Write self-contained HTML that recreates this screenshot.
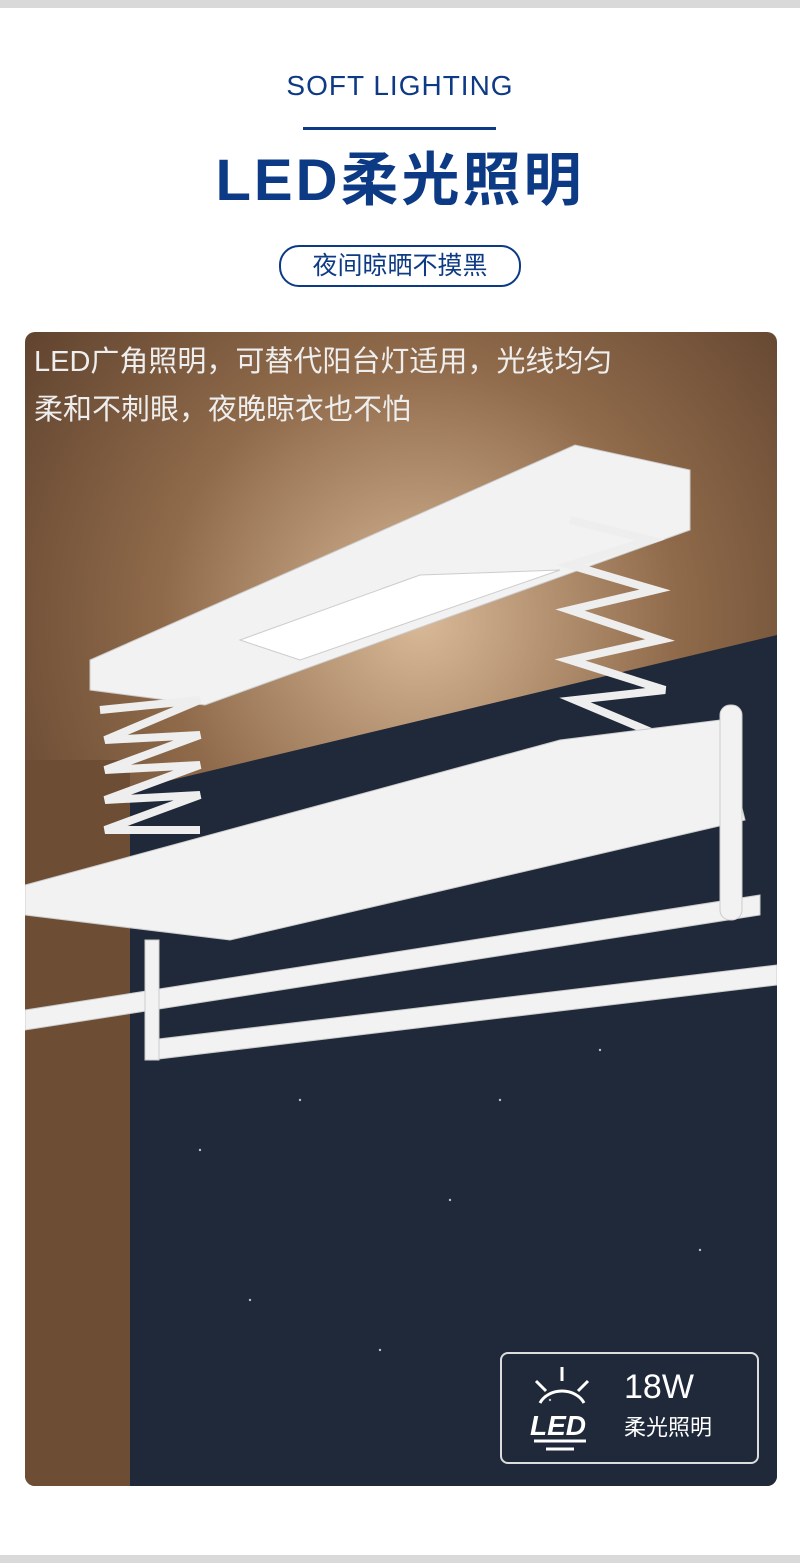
<!DOCTYPE html>
<html><head><meta charset="utf-8"><style>
body{margin:0;width:800px;height:1563px;background:#fff;position:relative;overflow:hidden;font-family:"Liberation Sans","Noto Sans CJK SC",sans-serif}
.bar{position:absolute;left:0;width:800px;height:8px;background:#d9d9d9}
.t1{position:absolute;top:70px;width:800px;text-align:center;color:#0d3a85;font-size:28px;letter-spacing:1px}
.line{position:absolute;left:303px;top:127px;width:193px;height:3px;background:#0d3a85}
.t2{position:absolute;top:146px;width:800px;text-align:center;color:#0d3a85;font-size:58px;font-weight:bold;letter-spacing:3px;line-height:70px}
.pill{position:absolute;left:279px;top:245px;width:238px;height:38px;border:2px solid #0d3a85;border-radius:20px;color:#0d3a85;font-size:25px;text-align:center;line-height:38px}
.img{position:absolute;left:25px;top:332px;width:752px;height:1154px;border-radius:10px;overflow:hidden}
.cap{position:absolute;left:9px;color:#eee;font-size:29px;line-height:34px}
</style></head><body>
<div class="bar" style="top:0"></div>
<div class="bar" style="top:1555px"></div>
<div class="t1">SOFT LIGHTING</div>
<div class="line"></div>
<div class="t2">LED柔光照明</div>
<div class="pill">夜间晾晒不摸黑</div>
<div class="img">
<svg width="752" height="1154" viewBox="25 332 752 1154">
<defs>
<radialGradient id="g" cx="420" cy="620" r="520" gradientUnits="userSpaceOnUse"><stop offset="0" stop-color="#d8b998"/><stop offset="0.5" stop-color="#8f6a4a"/><stop offset="1" stop-color="#5a3e2b"/></radialGradient>
</defs>
<rect x="25" y="332" width="752" height="1154" fill="url(#g)"/>
<rect x="25" y="760" width="105" height="726" fill="#6e4d35"/>
<polygon points="130,790 777,635 777,1486 130,1486" fill="#1f2939"/>
<g fill="#fff" opacity="0.7">
<circle cx="300" cy="1100" r="1.2"/><circle cx="450" cy="1200" r="1.2"/><circle cx="600" cy="1050" r="1.2"/><circle cx="250" cy="1300" r="1.2"/><circle cx="700" cy="1250" r="1.2"/><circle cx="550" cy="1400" r="1.2"/><circle cx="380" cy="1350" r="1.2"/><circle cx="680" cy="750" r="1.2"/><circle cx="200" cy="1150" r="1.2"/><circle cx="500" cy="1100" r="1.2"/>
</g>
<g fill="#f2f2f2" stroke="#ccc" stroke-width="1">
<polygon points="90,660 575,445 690,470 690,530 205,705 90,690"/>
<polygon points="240,640 420,575 560,570 300,660" fill="#fff"/>
<polyline points="100,710 200,700 105,740 200,735 105,770 200,765 105,800 200,795 105,830 200,830" fill="none" stroke="#eee" stroke-width="8"/>
<polyline points="570,520 650,540 570,565 655,590 570,610 660,640 570,660 665,690 575,700 670,740 570,750 680,790" fill="none" stroke="#eee" stroke-width="8"/>
<polygon points="25,885 560,740 720,720 745,820 230,940 25,915"/>
<polygon points="25,1010 760,895 760,915 25,1030"/>
<polygon points="150,1040 777,965 777,985 150,1060"/>
<rect x="145" y="940" width="14" height="120"/>
<rect x="720" y="705" width="22" height="215" rx="10"/>
</g>
</svg>
<div class="cap" style="top:13px">LED广角照明，可替代阳台灯适用，光线均匀</div>
<div class="cap" style="top:61px">柔和不刺眼，夜晚晾衣也不怕</div>
<div style="position:absolute;left:475px;top:1020px;width:255px;height:108px;border:2px solid #ddd;border-radius:8px">
<svg width="100" height="100" style="position:absolute;left:20px;top:5px">
<g stroke="#fff" stroke-width="3" fill="none"><line x1="40" y1="8" x2="40" y2="22"/><line x1="14" y1="22" x2="24" y2="32"/><line x1="66" y1="22" x2="56" y2="32"/><path d="M18 44 A24 20 0 0 1 62 44"/><line x1="12" y1="82" x2="64" y2="82"/><line x1="24" y1="90" x2="52" y2="90"/></g>
<text x="8" y="76" fill="#fff" font-size="28" font-weight="bold" font-style="italic" font-family="Liberation Sans">LED</text></svg>
<div style="position:absolute;left:122px;top:14px;color:#fff;font-size:34px">18W</div>
<div style="position:absolute;left:122px;top:56px;color:#fff;font-size:22px">柔光照明</div>
</div>
</div>
</body></html>
